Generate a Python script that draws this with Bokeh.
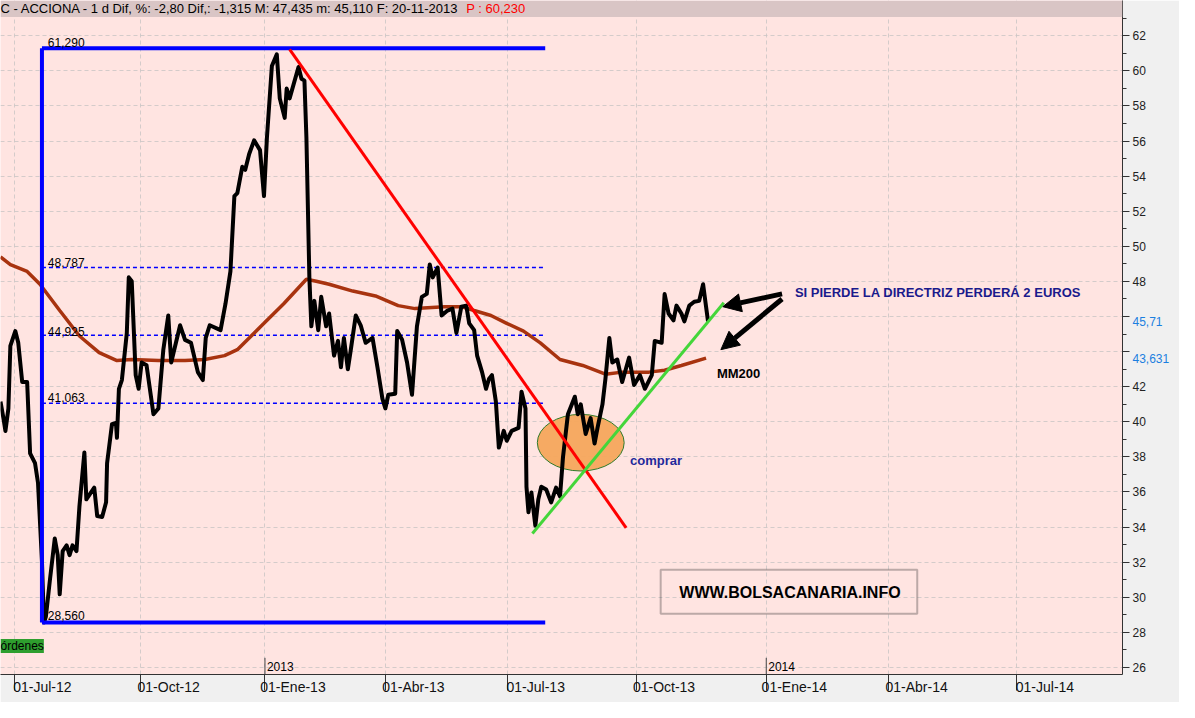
from bokeh.plotting import figure
from bokeh.models import Label, Arrow, NormalHead, BoxAnnotation, FixedTicker, Range1d, LinearAxis
from bokeh.embed import file_html
from bokeh.resources import INLINE

# ---------------- data ----------------
# x = trading session index counted from 01-Jul-12
session = [-7, -5.5, -4.5, -3, -2, 0.5, 2, 4, 6.5, 8, 10.5, 12, 14, 15, 16, 18, 20.5, 22, 23,
           24.5, 26.5, 28, 29.5, 31.5, 33, 35.5, 36.5, 40.5, 42, 44.5, 46.5, 47, 49.5, 51.5, 52,
           53, 54.5, 57, 58, 59.5, 61.5, 63, 64.5, 67, 70.5, 73, 75.5, 78, 79.5, 84, 86.5, 89.5,
           93, 95.5, 97, 99, 104.5, 107, 109.5, 111.5, 113, 115.5, 117, 119, 121.5, 123, 124.5,
           126.5, 128, 130.5, 133, 134.5, 137, 138, 139.5, 144, 145.5, 147, 148, 149.5, 150.5,
           152, 154, 155.5, 158, 159.5, 162, 164, 165.5, 167, 169, 170.5, 173, 175.5, 178, 181.5,
           184, 186.5, 188, 189.5, 193, 194, 196.5, 199, 201.5, 204, 206.5, 209, 210.5, 212,
           214.5, 216.5, 219.5, 222, 224, 226.5, 229, 230.5, 233, 234.5, 237, 239, 240.5, 242,
           244, 245.5, 248, 249.5, 252, 255.5, 257, 259, 259.5, 260.5, 262, 264, 265.5, 267,
           269.5, 272, 274.5, 276.5, 278, 280.5, 284, 285.5, 287, 289.5, 292, 294, 295.5, 298,
           299.5, 301.5, 303, 305.5, 308, 311.5, 314, 317, 319.5, 323, 324.5, 328, 329.5, 331.5,
           334, 335.5, 338, 339.5, 342, 344.5, 347, 349, 350.5, 351.5]
close = [41.15, 40.20, 39.48, 40.76, 44.33, 45.17, 44.50, 42.27, 42.27, 38.20, 37.64, 36.53,
         32.07, 28.56, 28.90, 30.95, 33.35, 32.40, 30.17, 32.63, 32.96, 32.40, 32.96, 32.63,
         35.19, 38.25, 35.58, 36.25, 34.63, 34.58, 35.41, 37.64, 39.87, 39.93, 39.09, 41.88,
         42.38, 45.06, 48.23, 48.01, 42.66, 41.88, 43.38, 43.22, 40.43, 40.76, 44.11, 46.06,
         43.38, 45.50, 44.67, 44.50, 42.83, 42.38, 44.78, 45.50, 45.22, 46.73, 48.57, 52.86,
         53.03, 54.53, 54.36, 55.26, 56.04, 55.76, 55.48, 52.86, 56.20, 60.27, 60.94, 58.43,
         57.32, 58.99, 58.43, 60.22, 59.55, 59.44, 56.20, 48.23, 45.44, 46.89, 45.22, 47.12,
         45.44, 46.17, 43.77, 44.61, 43.11, 44.78, 42.99, 44.11, 46.06, 45.50, 44.50, 44.78,
         43.11, 41.32, 40.76, 41.54, 41.60, 45.17, 44.67, 43.38, 41.54, 45.44, 47.12, 47.29,
         48.96, 48.23, 48.79, 46.06, 46.34, 46.45, 45.06, 46.56, 46.62, 45.61, 45.22, 43.77,
         42.83, 41.88, 42.44, 42.66, 41.15, 38.53, 39.48, 38.92, 39.48, 39.65, 41.71, 40.76,
         36.30, 34.85, 35.97, 34.07, 35.58, 36.30, 36.14, 35.41, 36.25, 35.75, 37.98, 40.43,
         41.43, 40.43, 40.99, 39.31, 40.21, 38.76, 39.65, 40.99, 42.44, 44.78, 43.38, 43.55,
         42.27, 43.66, 42.10, 42.66, 41.88, 42.66, 44.61, 44.50, 47.28, 46.17, 45.78, 46.62,
         46.17, 45.72, 46.62, 46.84, 46.89, 47.84, 46.56, 45.71]

mm_session = [-7, -2, 6.5, 13, 23, 33, 43, 52, 59.5, 73, 86.5, 96.5, 106.5, 113, 126.5, 136.5,
              148, 153, 159.5, 171.5, 183, 194.5, 203, 218, 226.5, 233, 241.5, 249.5, 258,
              266.5, 276.5, 288, 299.5, 308, 321.5, 329.5, 338, 350.5]
mm200 = [49.40, 48.96, 48.57, 47.84, 46.34, 44.89, 43.94, 43.49, 43.55, 43.49, 43.49, 43.55,
         43.77, 44.11, 45.61, 46.73, 48.12, 48.01, 47.84, 47.45, 47.17, 46.62, 46.45, 46.56,
         46.56, 46.34, 46.06, 45.61, 45.17, 44.50, 43.55, 43.21, 42.71, 42.83, 42.83, 42.94,
         43.21, 43.631]

fib_levels = [61.29, 48.787, 44.925, 41.063, 28.56]
fib_span = [14, 269]

down_trend_s = [139.5, 310]
down_trend_v = [61.22, 33.96]
up_trend_s = [262.5, 359.5]
up_trend_v = [33.63, 46.78]

quarter_sessions = [0, 64, 127, 188, 250, 315, 381, 443, 508]
quarter_labels = ["01-Jul-12", "01-Oct-12", "01-Ene-13", "01-Abr-13", "01-Jul-13",
                  "01-Oct-13", "01-Ene-14", "01-Abr-14", "01-Jul-14"]
year_sessions = [127, 381]
year_labels = ["2013", "2014"]
y_ticks = list(range(26, 63, 2))
y_minor = list(range(25, 64, 1))
last_values = [close[-1], mm200[-1]]
last_labels = ["45,71", "43,631"]

header_text = "C - ACCIONA -  1 d Dif, %: -2,80 Dif,: -1,315 M: 47,435 m: 45,110 F: 20-11-2013"
header_red = "P : 60,230"

FONT = "Liberation Sans"
X0, X1 = -7, 561.5
Y0, Y1 = 25.6, 64.007

# ---------------- figure ----------------
p = figure(width=1179, height=702,
           x_range=Range1d(X0, X1), y_range=Range1d(Y0, Y1),
           y_axis_location="right", output_backend="svg", toolbar_location=None,
           min_border_left=0, min_border_right=57, min_border_top=0, min_border_bottom=28,
           background_fill_color="#ffe4e1", border_fill_color="#f0f0f0")
p.outline_line_color = None

# grid
p.xgrid.ticker = FixedTicker(ticks=quarter_sessions)
p.ygrid.ticker = FixedTicker(ticks=y_ticks)
for g in (p.xgrid, p.ygrid):
    g.grid_line_color = "#c9c4c4"
    g.grid_line_dash = "4 3"
    g.grid_line_alpha = 0.8

# right axis
ya = p.yaxis[0]
ya.ticker = FixedTicker(ticks=y_ticks, minor_ticks=y_minor)
ya.axis_line_color = "#333333"
ya.major_tick_line_color = "#333333"
ya.minor_tick_line_color = "#333333"
ya.major_tick_in = 0
ya.major_tick_out = 7
ya.minor_tick_in = 0
ya.minor_tick_out = 4
ya.major_label_standoff = 3
ya.major_label_text_font = FONT
ya.major_label_text_font_size = "12px"
ya.major_label_text_color = "#222222"

# second right axis: last-value tags
ax2 = LinearAxis(ticker=FixedTicker(ticks=last_values, minor_ticks=[]),
                 major_label_overrides=dict(zip(last_values, last_labels)),
                 axis_line_color=None, major_tick_line_color=None, minor_tick_line_color=None,
                 major_tick_in=0, major_tick_out=0, minor_tick_in=0, minor_tick_out=0,
                 major_label_standoff=-16, major_label_text_font=FONT,
                 major_label_text_font_size="12px")
props = ax2.properties()
if "major_label_background_fill_color" in props:
    ax2.major_label_background_fill_color = "#2f9af0"
    ax2.major_label_text_color = "white"
else:
    ax2.major_label_text_color = "#1b7fe0"
    ya.major_label_overrides = {44: "", 46: ""}
p.add_layout(ax2, "right")

# bottom axis: tick marks as minor ticks at the quarter starts, labels shifted right of them
label_shift = 14.2
xa = p.xaxis[0]
xa.ticker = FixedTicker(ticks=[q + label_shift for q in quarter_sessions], minor_ticks=quarter_sessions)
xa.major_label_overrides = {q + label_shift: lab for q, lab in zip(quarter_sessions, quarter_labels)}
xa.major_label_text_font = FONT
xa.major_label_text_font_size = "14px"
xa.major_label_text_color = "#111111"
xa.major_label_standoff = -12
xa.axis_line_color = "#333333"
xa.major_tick_line_color = None
xa.major_tick_in = 0
xa.major_tick_out = 0
xa.minor_tick_line_color = "#333333"
xa.minor_tick_in = 0
xa.minor_tick_out = 16

# header band (inside the frame, at its top)
p.add_layout(BoxAnnotation(left=X0, right=X1, bottom=63.06, top=Y1,
                           fill_color="#d9c5c5", fill_alpha=1, line_color=None))
p.add_layout(Label(x=-7, y=63.56, text=header_text, text_font=FONT, text_font_size="13px",
                   text_color="black", text_baseline="middle", text_align="left"))
p.add_layout(Label(x=229, y=63.56, text=header_red, text_font=FONT, text_font_size="13px",
                   text_color="#ff0000", text_baseline="middle", text_align="left"))

# fibonacci dashed levels
p.segment(x0=[fib_span[0]] * 3, x1=[fib_span[1]] * 3, y0=fib_levels[1:4], y1=fib_levels[1:4],
          line_color="#0000ff", line_width=1.5, line_dash="4 3")

# buy zone ellipse
p.ellipse(x=[287], y=[38.81], width=44, height=3.23, fill_color="#f6a75c", fill_alpha=0.95,
          line_color="#2f7a2a", line_width=1)

# moving average 200
p.line(mm_session, mm200, line_color="#a8330f", line_width=3.5)

# price
p.line(session, close, line_color="black", line_width=4, line_join="round")

# blue range box (vertical + top + bottom)
p.line([fib_span[0], fib_span[0]], [fib_levels[0], fib_levels[-1]], line_color="#0000ff", line_width=4)
p.line(fib_span, [fib_levels[0], fib_levels[0]], line_color="#0000ff", line_width=4)
p.line(fib_span, [fib_levels[-1], fib_levels[-1]], line_color="#0000ff", line_width=4)

# trend lines
p.line(down_trend_s, down_trend_v, line_color="#ff0000", line_width=3)
p.line(up_trend_s, up_trend_v, line_color="#44d63a", line_width=3)

# fib labels
fib_label_y = [61.61, 49.07, 45.17, 41.38, 28.95]
for lv, ly in zip(fib_levels, fib_label_y):
    p.add_layout(Label(x=17, y=ly, text=f"{lv:.3f}".replace(".", ","), text_font=FONT,
                       text_font_size="12px", text_color="black", text_baseline="middle"))

# year markers
for ys, yl in zip(year_sessions, year_labels):
    p.segment(x0=[ys], y0=[Y0], x1=[ys], y1=[26.55], line_color="#444444", line_width=1)
    p.add_layout(Label(x=ys + 1, y=26.05, text=yl, text_font=FONT, text_font_size="12px",
                       text_color="black", text_baseline="middle"))

# annotations
p.add_layout(Label(x=312, y=37.81, text="comprar", text_font=FONT, text_font_size="13px",
                   text_font_style="bold", text_color="#1f2a9c", text_baseline="middle"))
p.add_layout(Label(x=395.5, y=47.34, text="SI PIERDE LA DIRECTRIZ PERDERÁ 2 EUROS",
                   text_font=FONT, text_font_size="13px", text_font_style="bold",
                   text_color="#1a1a8c", text_baseline="middle"))
p.add_layout(Label(x=356, y=42.77, text="MM200", text_font=FONT, text_font_size="13px",
                   text_font_style="bold", text_color="black", text_baseline="middle"))

p.add_layout(Arrow(end=NormalHead(size=18, fill_color="black", line_color="black"),
                   x_start=389, y_start=47.29, x_end=359, y_end=46.56,
                   line_color="black", line_width=5))
p.add_layout(Arrow(end=NormalHead(size=18, fill_color="black", line_color="black"),
                   x_start=389, y_start=47.0, x_end=358, y_end=44.11,
                   line_color="black", line_width=5))

# web box
p.add_layout(BoxAnnotation(left=327.5, right=457.5, bottom=29.06, top=31.57,
                           fill_alpha=0, line_color="#222222", line_width=2))
p.add_layout(Label(x=393, y=30.3, text="WWW.BOLSACANARIA.INFO", text_font=FONT,
                   text_font_size="16px", text_font_style="bold", text_color="black",
                   text_align="center", text_baseline="middle"))

# orders tag
p.add_layout(Label(x=-7, y=27.22, text="órdenes", text_font=FONT, text_font_size="12px",
                   text_color="black", text_baseline="middle",
                   background_fill_color="#2e9e2e", background_fill_alpha=1))

open("out.html", "w").write(file_html(p, INLINE))
